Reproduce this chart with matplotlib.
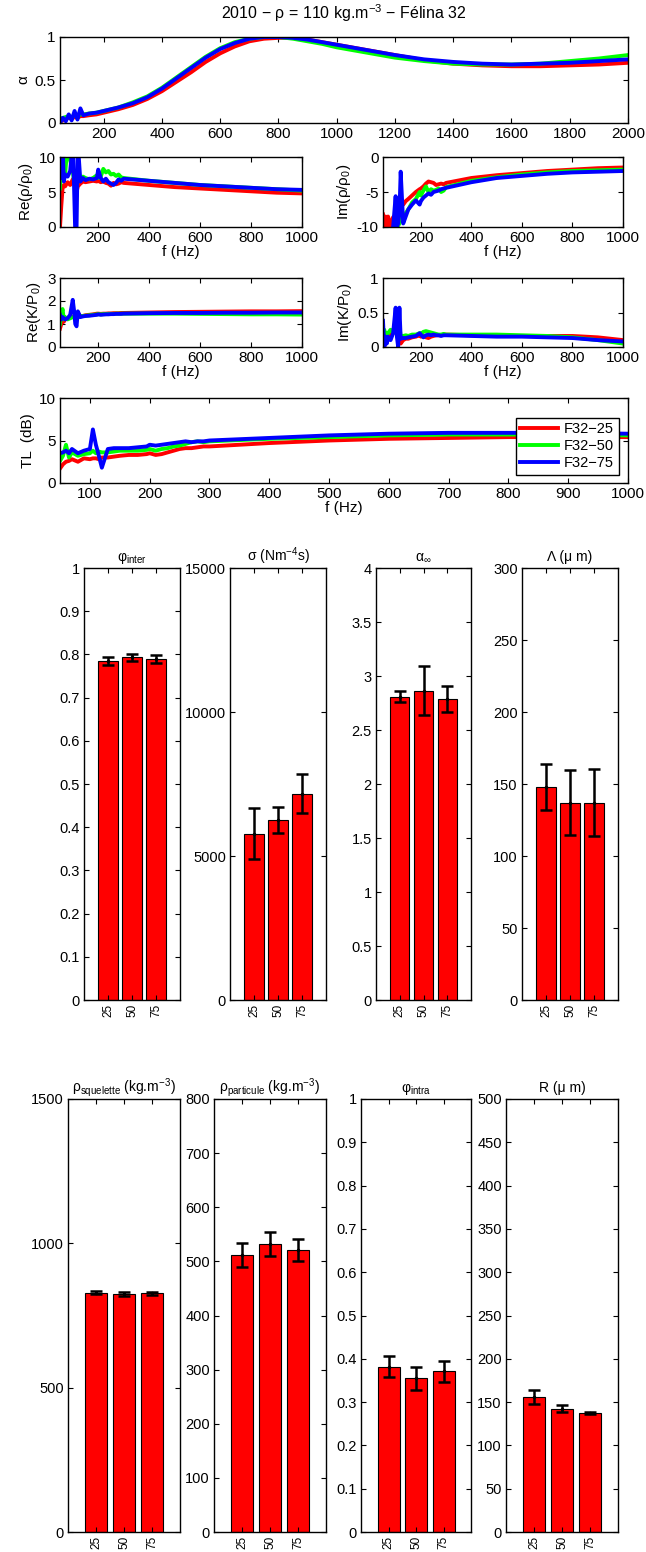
import matplotlib
matplotlib.use('Agg')
import matplotlib.pyplot as plt
from matplotlib import ticker

plt.rcParams['font.family'] = ['Liberation Sans', 'DejaVu Sans']
plt.rcParams['mathtext.fontset'] = 'custom'
plt.rcParams['mathtext.rm'] = 'Liberation Sans'
plt.rcParams['mathtext.it'] = 'Liberation Sans:italic'
plt.rcParams['mathtext.bf'] = 'Liberation Sans:bold'
plt.rcParams['xtick.direction'] = 'in'
plt.rcParams['ytick.direction'] = 'in'
plt.rcParams['xtick.top'] = True
plt.rcParams['ytick.right'] = True
plt.rcParams['axes.linewidth'] = 1.0
plt.rcParams['xtick.major.size'] = 3.5
plt.rcParams['ytick.major.size'] = 3.5

# ---- absorption coefficient (50-2000 Hz)
f_alpha = [50, 60, 70, 80, 90, 100, 110, 120, 130, 150, 175, 200, 250, 300, 350, 400,
           450, 500, 550, 600, 650, 700, 750, 800, 850, 900, 950, 1000, 1100, 1200,
           1300, 1400, 1500, 1600, 1700, 1800, 1900, 2000]
alpha_25 = [0.02, 0.03, 0.05, 0.06, 0.05, 0.07, 0.06, 0.08, 0.08, 0.09, 0.10, 0.12, 0.16,
            0.21, 0.28, 0.37, 0.48, 0.59, 0.71, 0.81, 0.89, 0.95, 0.98, 0.99, 0.99, 0.97,
            0.94, 0.91, 0.85, 0.79, 0.73, 0.69, 0.67, 0.66, 0.66, 0.67, 0.68, 0.70]
alpha_50 = [0.05, 0.06, 0.07, 0.08, 0.07, 0.09, 0.08, 0.10, 0.10, 0.11, 0.12, 0.14, 0.18,
            0.24, 0.31, 0.41, 0.53, 0.65, 0.77, 0.87, 0.94, 0.98, 1.00, 1.00, 0.98, 0.95,
            0.92, 0.88, 0.82, 0.76, 0.72, 0.69, 0.68, 0.68, 0.69, 0.72, 0.75, 0.79]
alpha_75 = [0.00, 0.06, 0.02, 0.10, 0.03, 0.14, 0.04, 0.17, 0.09, 0.11, 0.12, 0.14, 0.18,
            0.23, 0.30, 0.40, 0.52, 0.64, 0.76, 0.86, 0.93, 0.98, 1.00, 1.00, 0.99, 0.97,
            0.94, 0.91, 0.85, 0.79, 0.74, 0.71, 0.69, 0.68, 0.69, 0.70, 0.72, 0.74]

# ---- equivalent parameters (50-1000 Hz)
f_lo = [50, 55, 60, 65, 70, 80, 90, 100, 105, 110, 115, 120, 130, 140, 150, 165, 180, 195,
        200, 210, 220, 230, 240, 250, 260, 270, 280, 290, 300, 400, 500, 600, 700, 800, 900, 1000]

re_rho_25 = [0.0, 3.0, 5.5, 6.0, 5.8, 6.4, 6.0, 6.8, 7.0, 6.2, 5.0, 5.8, 6.2, 6.5, 6.4, 6.5,
             6.6, 6.5, 6.6, 6.4, 6.5, 6.3, 6.2, 5.9, 6.3, 6.1, 6.2, 6.4, 6.3, 6.0, 5.7, 5.5,
             5.3, 5.1, 4.9, 4.8]
re_rho_50 = [5.5, 9.0, 12, 11, 7.5, 12, 9.5, 8.0, 6.5, 7.0, 6.0, 6.5, 7.0, 7.2, 7.0, 6.8,
             7.0, 7.4, 7.0, 7.2, 8.3, 7.8, 8.0, 7.5, 7.6, 7.3, 7.5, 7.1, 7.0, 6.6, 6.3, 6.0,
             5.8, 5.6, 5.4, 5.2]
re_rho_75 = [12, 7.0, 12, 6.5, 7.5, 7.2, 8.0, 12, 6.0, -1, 0.0, 12, 6.5, 7.0, 6.7, 6.9,
             6.8, 7.0, 8.2, 7.0, 6.5, 6.9, 6.4, 6.2, 6.0, 6.3, 6.8, 6.6, 6.9, 6.6, 6.3, 6.0,
             5.8, 5.6, 5.4, 5.3]

im_rho_25 = [-8.2, -11, -8.5, -10.5, -8.5, -9.8, -8.6, -9.5, -7.5, -8.5, -7.8, -7.0, -6.8,
             -6.3, -6.0, -5.5, -5.0, -4.6, -4.5, -4.2, -3.8, -3.5, -3.6, -3.7, -4.0, -3.9,
             -3.8, -3.9, -3.7, -3.0, -2.6, -2.3, -2.0, -1.8, -1.6, -1.5]
im_rho_50 = [-11, -11, -11, -11, -11, -11, -10.5, -9.5, -10, -9.8, -9.5, -9.0, -8.5, -8.0,
             -7.5, -6.5, -6.0, -5.0, -5.5, -4.8, -4.2, -5.0, -4.6, -4.8, -4.7, -4.5, -5.0,
             -4.8, -4.3, -3.4, -2.9, -2.5, -2.2, -2.0, -1.9, -1.8]
im_rho_75 = [-11, -11, -11, -11, -11, -11, -10, -5.6, -10, -9.5, -8.0, -2.1, -9.5, -8.5,
             -7.5, -6.8, -6.2, -6.8, -6.3, -5.8, -5.5, -5.2, -5.4, -5.0, -4.9, -4.8, -4.6,
             -4.5, -4.4, -3.6, -3.0, -2.7, -2.4, -2.2, -2.1, -2.0]

re_k_25 = [0.8, 1.0, 1.2, 1.1, 1.2, 1.25, 1.3, 1.3, 1.35, 1.3, 1.4, 1.45, 1.35, 1.35, 1.38,
           1.4, 1.42, 1.45, 1.45, 1.44, 1.45, 1.45, 1.46, 1.46, 1.47, 1.47, 1.47, 1.48,
           1.48, 1.50, 1.52, 1.53, 1.54, 1.55, 1.55, 1.56]
re_k_50 = [1.0, 1.4, 1.65, 1.2, 1.3, 1.2, 1.25, 1.3, 1.3, 1.28, 1.3, 1.33, 1.34, 1.35, 1.36,
           1.38, 1.4, 1.42, 1.43, 1.42, 1.43, 1.43, 1.44, 1.44, 1.44, 1.45, 1.45, 1.45,
           1.45, 1.45, 1.45, 1.44, 1.43, 1.42, 1.42, 1.41]
re_k_75 = [1.4, 1.2, 1.3, 1.25, 1.2, 1.25, 1.4, 2.05, 1.6, 1.0, 0.9, 1.55, 1.3, 1.33, 1.35,
           1.36, 1.38, 1.4, 1.42, 1.4, 1.41, 1.42, 1.42, 1.43, 1.43, 1.44, 1.44, 1.44,
           1.45, 1.47, 1.48, 1.48, 1.49, 1.49, 1.50, 1.50]

im_k_25 = [0.05, 0.0, 0.2, 0.15, 0.1, 0.2, 0.25, 0.22, 0.2, 0.3, 0.15, 0.05, 0.1, 0.12, 0.12,
           0.14, 0.15, 0.17, 0.15, 0.16, 0.14, 0.13, 0.15, 0.16, 0.17, 0.17, 0.17, 0.18,
           0.18, 0.17, 0.16, 0.16, 0.16, 0.16, 0.14, 0.10]
im_k_50 = [0.0, 0.25, 0.1, 0.2, 0.2, 0.25, 0.2, 0.25, 0.3, 0.2, 0.3, 0.15, 0.16, 0.17, 0.16,
           0.18, 0.18, 0.2, 0.19, 0.22, 0.23, 0.22, 0.21, 0.2, 0.19, 0.18, 0.18, 0.19,
           0.18, 0.18, 0.18, 0.17, 0.16, 0.14, 0.10, 0.05]
im_k_75 = [0.38, 0.0, 0.15, 0.05, 0.15, 0.1, 0.2, 0.57, 0.15, 0.0, 0.57, 0.12, 0.13, 0.13,
           0.14, 0.15, 0.16, 0.2, 0.18, 0.14, 0.17, 0.18, 0.17, 0.18, 0.17, 0.17, 0.16,
           0.17, 0.17, 0.16, 0.15, 0.15, 0.14, 0.13, 0.10, 0.08]

tl_25 = [1.7, 2.2, 2.5, 2.6, 2.8, 2.5, 2.9, 2.8, 2.9, 2.9, 2.8, 3.0, 3.0, 3.1, 3.2, 3.3,
         3.3, 3.4, 3.5, 3.3, 3.4, 3.6, 3.8, 4.0, 4.1, 4.1, 4.2, 4.3, 4.3, 4.7, 5.0, 5.2,
         5.3, 5.4, 5.4, 5.4]
tl_50 = [2.6, 3.2, 4.5, 3.0, 3.6, 3.2, 3.4, 3.5, 3.8, 3.5, 3.7, 3.6, 3.6, 3.7, 3.8, 3.8,
         3.8, 3.9, 4.0, 3.8, 4.0, 4.1, 4.3, 4.4, 4.6, 4.8, 4.9, 4.8, 4.9, 5.2, 5.4, 5.6,
         5.7, 5.7, 5.7, 5.6]
tl_75 = [3.5, 3.6, 3.8, 3.5, 4.0, 3.5, 3.8, 4.0, 6.3, 4.5, 3.2, 1.8, 4.0, 4.1, 4.1, 4.1,
         4.2, 4.3, 4.5, 4.4, 4.5, 4.6, 4.7, 4.8, 4.9, 4.8, 4.9, 4.9, 5.0, 5.3, 5.6, 5.8,
         5.9, 5.9, 5.9, 5.8]

series_names = ['F32\u221225', 'F32\u221250', 'F32\u221275']
series_colors = ['#ff0000', '#00ff00', '#0000ff']

# ---- identified parameters (mean and standard deviation)
samples = ['25', '50', '75']
phi_inter = [0.785, 0.793, 0.789]
phi_inter_err = [0.0085, 0.009, 0.009]
sigma = [5780, 6245, 7170]
sigma_err = [870, 460, 680]
alpha_inf = [2.81, 2.865, 2.785]
alpha_inf_err = [0.055, 0.23, 0.12]
Lambda = [148, 137, 137]
Lambda_err = [16, 22.7, 23.3]
rho_sq = [829, 825, 827]
rho_sq_err = [6, 6, 6]
rho_part = [512, 532, 521]
rho_part_err = [22, 22, 21]
phi_intra = [0.382, 0.355, 0.371]
phi_intra_err = [0.025, 0.027, 0.025]
R = [156, 142.6, 137]
R_err = [8.5, 3.5, 1.2]

W, H = 646, 1552
fig = plt.figure(figsize=(W / 100, H / 100), dpi=100)


def box(l, r, t, b):
    # axes from pixel edges
    return fig.add_axes([l / W, 1 - b / H, (r - l) / W, (b - t) / H])


fmt = ticker.FormatStrFormatter('%g')
FS = 11


def curves(ax, x, ys, xlim, ylim, xticks, yticks, ylabel, xlabel=None):
    for y, c in zip(ys, series_colors):
        ax.plot(x, y, color=c, lw=2.8)
    ax.set_xlim(xlim)
    ax.set_ylim(ylim)
    ax.set_xticks(xticks)
    ax.set_yticks(yticks)
    ax.xaxis.set_major_formatter(fmt)
    ax.yaxis.set_major_formatter(fmt)
    ax.tick_params(labelsize=FS, pad=3)
    ax.set_ylabel(ylabel, fontsize=FS, labelpad=3)
    if xlabel:
        ax.set_xlabel(xlabel, fontsize=FS, labelpad=0)


ax = box(60, 628, 37, 123)
curves(ax, f_alpha, [alpha_25, alpha_50, alpha_75], (50, 2000), (0, 1),
       range(200, 2001, 200), [0, 0.5, 1], '\u03b1')
ax.set_title('2010 \u2212 \u03c1 = 110 kg.m$^{-3}$ \u2212 F\u00e9lina 32', fontsize=11.5, pad=13)

ax = box(60, 302, 157, 227)
curves(ax, f_lo, [re_rho_25, re_rho_50, re_rho_75], (50, 1000), (0, 10),
       range(200, 1001, 200), [0, 5, 10], 'Re(\u03c1/\u03c1$_0$)', 'f (Hz)')
ax = box(383, 623, 157, 227)
curves(ax, f_lo, [im_rho_25, im_rho_50, im_rho_75], (50, 1000), (-10, 0),
       range(200, 1001, 200), [-10, -5, 0], 'Im(\u03c1/\u03c1$_0$)', 'f (Hz)')
ax = box(60, 302, 278, 347)
curves(ax, f_lo, [re_k_25, re_k_50, re_k_75], (50, 1000), (0, 3),
       range(200, 1001, 200), [0, 1, 2, 3], 'Re(K/P$_0$)', 'f (Hz)')
ax = box(383, 623, 278, 347)
curves(ax, f_lo, [im_k_25, im_k_50, im_k_75], (50, 1000), (0, 1),
       range(200, 1001, 200), [0, 0.5, 1], 'Im(K/P$_0$)', 'f (Hz)')

ax = box(60, 628, 398, 483)
curves(ax, f_lo, [tl_25, tl_50, tl_75], (50, 1000), (0, 10),
       range(100, 1001, 100), [0, 5, 10], 'TL  (dB)', 'f (Hz)')
for line, name in zip(ax.lines, series_names):
    line.set_label(name)
leg = ax.legend(loc='upper left', bbox_to_anchor=(516 / W, 1 - 418 / H),
                bbox_transform=fig.transFigure, borderaxespad=0, fontsize=10.5,
                handlelength=2.6, handletextpad=0.4, labelspacing=0.2,
                borderpad=0.3, fancybox=False, framealpha=1)
leg.get_frame().set_edgecolor('k')
leg.get_frame().set_linewidth(1.0)


def bars(ax, vals, errs, top, step, title):
    x = [1, 2, 3]
    ax.bar(x, vals, 0.8, color='#ff0000', edgecolor='k', linewidth=0.8)
    ax.errorbar(x, vals, yerr=errs, fmt='.', color='k', ms=3, lw=1.8,
                capsize=4.5, capthick=1.8)
    ax.set_xlim(0, 4)
    ax.set_ylim(0, top)
    ax.set_xticks(x)
    ax.set_xticklabels(samples, rotation=90, fontsize=8.5)
    n = int(round(top / step))
    ax.set_yticks([i * step for i in range(n + 1)])
    ax.yaxis.set_major_formatter(fmt)
    ax.tick_params(axis='y', labelsize=10.5, pad=3)
    ax.tick_params(axis='x', pad=3)
    ax.set_title(title, fontsize=10, pad=5)


bars(box(84, 180, 568, 1000), phi_inter, phi_inter_err, 1, 0.1,
     '\u03c6$_{\\rm inter}$')
bars(box(230, 326, 568, 1000), sigma, sigma_err, 15000, 5000,
     '\u03c3 (Nm$^{-4}$s)')
bars(box(376, 471, 568, 1000), alpha_inf, alpha_inf_err, 4, 0.5,
     '\u03b1$_{\\infty}$')
bars(box(522, 618, 568, 1000), Lambda, Lambda_err, 300, 50,
     '\u039b (\u03bc m)')

bars(box(68, 180, 1099, 1532), rho_sq, rho_sq_err, 1500, 500,
     '\u03c1$_{\\rm squelette}$ (kg.m$^{-3}$)')
bars(box(214, 326, 1099, 1532), rho_part, rho_part_err, 800, 100,
     '\u03c1$_{\\rm particule}$ (kg.m$^{-3}$)')
bars(box(361, 471, 1099, 1532), phi_intra, phi_intra_err, 1, 0.1,
     '\u03c6$_{\\rm intra}$')
bars(box(506, 618, 1099, 1532), R, R_err, 500, 50,
     'R (\u03bc m)')

fig.savefig('out.png', dpi=100, facecolor='white')
